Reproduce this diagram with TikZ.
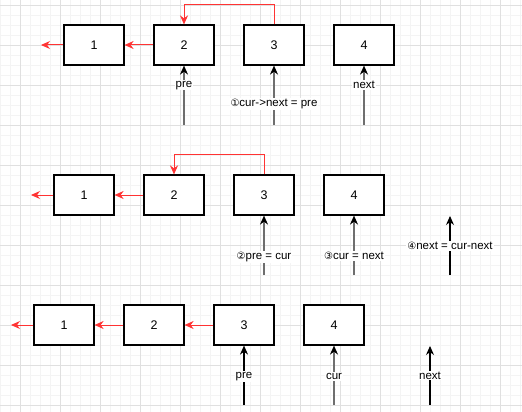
\documentclass[tikz,border=0pt]{standalone}
\usepackage{fontspec}
\setmainfont{Liberation Sans}
\newfontfamily\circfont{DejaVu Sans}
\usetikzlibrary{arrows.meta}

\definecolor{linkred}{HTML}{FF3333}
\definecolor{ptrgray}{HTML}{6E6E6E}
\definecolor{gridminor}{HTML}{F4F4F4}
\definecolor{gridmajor}{HTML}{E0E0E0}

\tikzset{
  cell/.style={draw, line width=1.2pt, minimum width=60pt, minimum height=40pt, inner sep=0pt, font=\fontsize{12.5}{14}\selectfont},
  link/.style={-{Stealth[length=9pt,width=8pt]}, draw=linkred, line width=1pt},
  ptr/.style={-{Stealth[length=9pt,width=8pt,color=black]}, line width=1.1pt},
  ptrg/.style={ptr, draw=ptrgray, line width=1.8pt},
  lbl/.style={fill=white, inner sep=1pt, font=\fontsize{11.5}{13}\selectfont},
}

\begin{document}
\begin{tikzpicture}[x=1pt,y=-1pt]

\fill[white] (0,0) rectangle (522,412);
\useasboundingbox (0,0) rectangle (522,412);

% grid
\foreach \x in {0,10,...,520} \draw[gridminor, line width=0.6pt] (\x,0) -- (\x,412);
\foreach \y in {5,15,...,405} \draw[gridminor, line width=0.6pt] (0,\y) -- (522,\y);
\foreach \x in {20,60,...,500} \draw[gridmajor, line width=0.8pt] (\x,0) -- (\x,412);
\foreach \y in {5,45,...,405} \draw[gridmajor, line width=0.8pt] (0,\y) -- (522,\y);

% step 1
\node (a1) at (94,45) [cell, fill=white] {1};
\node (a2) at (184,45) [cell, fill=white] {2};
\node (a3) at (274,45) [cell, fill=white] {3};
\node (a4) at (364,45) [cell, fill=white] {4};
\coordinate (a0) at (41,45);

\draw[link] (a1.west) -- (a0);
\draw[link] (a2.west) -- (a1.east);
\draw[link] (a3.north) -- ++(0,-20) -| (a2.north);

\coordinate (pa2) at (184,125);
\coordinate (pa3) at (274,125);
\coordinate (pa4) at (364,125);
\draw[ptrg] (pa2) -- node[lbl, pos=0.67] {pre} (a2.south);
\draw[ptrg] (pa3) -- node[lbl, pos=0.35] {{\circfont\fontsize{10}{12}\selectfont ①}cur->next = pre} (a3.south);
\draw[ptrg] (pa4) -- node[lbl, pos=0.67] {next} (a4.south);

% step 2
\node (b1) at (84,195) [cell, fill=white] {1};
\node (b2) at (174,195) [cell, fill=white] {2};
\node (b3) at (264,195) [cell, fill=white] {3};
\node (b4) at (354,195) [cell, fill=white] {4};
\coordinate (b0) at (31,195);

\draw[link] (b1.west) -- (b0);
\draw[link] (b2.west) -- (b1.east);
\draw[link] (b3.north) -- ++(0,-20) -| (b2.north);

\coordinate (pb3) at (264,275);
\coordinate (pb4) at (354,275);
\coordinate (pb5) at (450,275);
\coordinate (nb5) at (450,216);
\draw[ptrg] (pb3) -- node[lbl, pos=0.3] {{\circfont\fontsize{10}{12}\selectfont ②}pre = cur} (b3.south);
\draw[ptrg] (pb4) -- node[lbl, pos=0.32] {{\circfont\fontsize{10}{12}\selectfont ③}cur = next} (b4.south);
\draw[ptr] (pb5) -- node[lbl, pos=0.49] {{\circfont\fontsize{10}{12}\selectfont ④}next = cur-next} (nb5);

% step 3
\node (c1) at (64,325) [cell, fill=white] {1};
\node (c2) at (154,325) [cell, fill=white] {2};
\node (c3) at (244,325) [cell, fill=white] {3};
\node (c4) at (334,325) [cell, fill=white] {4};
\coordinate (c0) at (11,325);

\draw[link] (c1.west) -- (c0);
\draw[link] (c2.west) -- (c1.east);
\draw[link] (c3.west) -- (c2.east);

\coordinate (pc3) at (244,405);
\coordinate (pc4) at (334,405);
\coordinate (pc5) at (430,405);
\coordinate (nc5) at (430,346);
\draw[ptr] (pc3) -- node[lbl, pos=0.48] {pre} (c3.south);
\draw[ptrg] (pc4) -- node[lbl, pos=0.48] {cur} (c4.south);
\draw[ptr] (pc5) -- node[lbl, pos=0.5] {next} (nc5);

\end{tikzpicture}
\end{document}
